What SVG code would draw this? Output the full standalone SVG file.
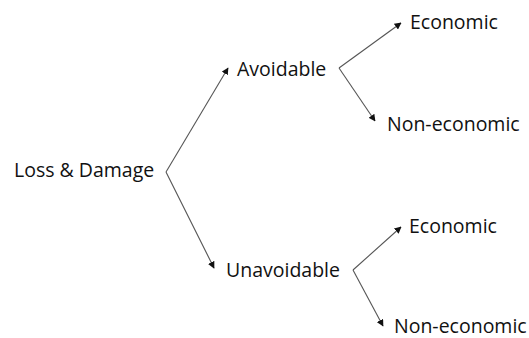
<svg xmlns="http://www.w3.org/2000/svg" width="529" height="338" viewBox="0 0 529 338">
<style>
text{font-family:"Open Sans","Liberation Sans",sans-serif;font-size:19.5px;fill:#111}
.c line{stroke:#555;stroke-width:1.1;fill:none;marker-end:url(#ah)}
</style>
<defs>
<marker id="ah" viewBox="0 0 10 10" refX="9" refY="5" markerWidth="7" markerHeight="7" markerUnits="userSpaceOnUse" orient="auto">
<path d="M0,0 L10,5 L0,10 z" fill="#111"/>
</marker>
</defs>
<rect width="529" height="338" fill="#fff"/>
<g class="c" id="connectors">
<line x1="166" y1="172" x2="228" y2="68"/>
<line x1="166" y1="172" x2="214" y2="268"/>
<line x1="339" y1="68" x2="401" y2="23"/>
<line x1="339" y1="68" x2="375" y2="121"/>
<line x1="353" y1="270" x2="401" y2="227"/>
<line x1="353" y1="270" x2="383" y2="326"/>
</g>
<g id="n-loss"><text x="14" y="177">Loss &amp; Damage</text></g>
<g id="n-avoid"><text x="237" y="76">Avoidable</text></g>
<g id="n-unavoid"><text x="226" y="277">Unavoidable</text></g>
<g id="n-econ1"><text x="410" y="29">Economic</text></g>
<g id="n-nonecon1"><text x="387" y="131">Non-economic</text></g>
<g id="n-econ2"><text x="409" y="233">Economic</text></g>
<g id="n-nonecon2"><text x="394" y="333">Non-economic</text></g>
</svg>
